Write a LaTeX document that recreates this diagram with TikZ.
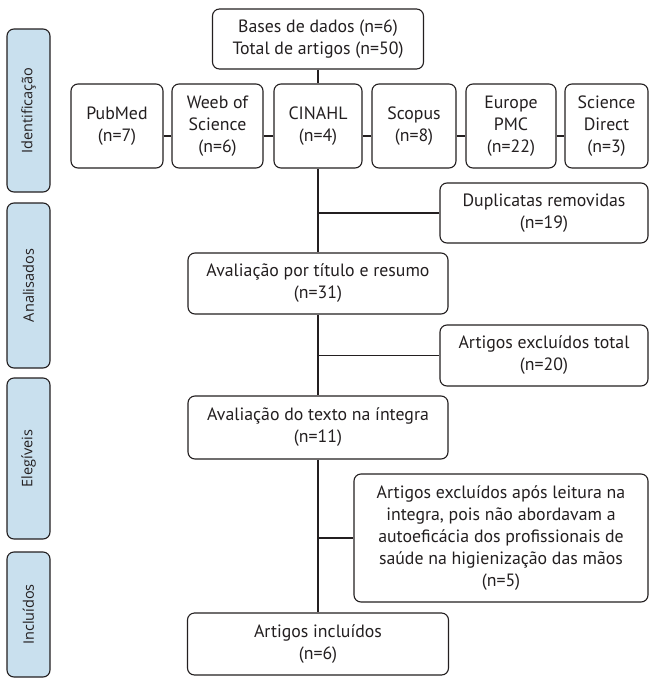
\documentclass[tikz,border=0pt]{standalone}
\usepackage{fontspec}
\setmainfont{PT Sans}
\newfontfamily\sidefont{Open Sans}
\usetikzlibrary{calc}
\definecolor{sideblue}{RGB}{201,224,238}
\definecolor{ink}{RGB}{35,31,32}
\begin{document}
\begin{tikzpicture}[x=1pt,y=-1pt,
  box/.style={draw=ink, line width=1.1pt, rounded corners=7pt, fill=white, align=center,
    inner sep=0pt, text=ink, font=\fontsize{17.8}{22}\selectfont},
  sidebox/.style={draw=ink, line width=1.1pt, rounded corners=7pt, fill=sideblue,
    inner sep=0pt, rotate=90, minimum height=43pt, text=ink, font=\sidefont\fontsize{14.5}{17}\selectfont},
  trunk/.style={draw=ink, line width=1.8pt},
  link/.style={draw=ink, line width=1.5pt}]
\useasboundingbox (0,0) rectangle (649,678);

% side labels
\node[sidebox, minimum width=163pt] (ident) at (28.5,110.5) {Identificação};
\node[sidebox, minimum width=165pt] (anal) at (28.5,285.5) {Analisados};
\node[sidebox, minimum width=161pt] (eleg) at (28.5,458.5) {Elegíveis};
\node[sidebox, minimum width=125pt] (inclu) at (28.5,614.5) {Incluídos};

% main flow
\node[box, minimum width=211pt, minimum height=60pt] (bases) at (318,39) {Bases de dados (n=6)\\Total de artigos (n=50)};
\node[box, minimum width=92pt, minimum height=84pt] (pubmed) at (117,126) {PubMed\\(n=7)};
\node[box, minimum width=91pt, minimum height=84pt] (weeb) at (217.5,126) {Weeb of\\Science\\(n=6)};
\node[box, minimum width=88pt, minimum height=84pt] (cinahl) at (318,126) {CINAHL\\(n=4)};
\node[box, minimum width=84pt, minimum height=84pt] (scopus) at (414,126) {Scopus\\(n=8)};
\node[box, minimum width=90pt, minimum height=84pt] (europe) at (511,126) {Europe\\PMC\\(n=22)};
\node[box, minimum width=83pt, minimum height=84pt] (science) at (606.5,126) {Science\\Direct\\(n=3)};
\coordinate (rowline) at (318,136);

\node[box, minimum width=208pt, minimum height=60pt] (dup) at (544,213) {Duplicatas removidas\\(n=19)};
\node[box, minimum width=260pt, minimum height=61pt] (titulo) at (318,283.5) {Avaliação por título e resumo\\(n=31)};
\node[box, minimum width=208pt, minimum height=61pt] (exctot) at (544,355.5) {Artigos excluídos total\\(n=20)};
\node[box, minimum width=260pt, minimum height=63pt] (texto) at (318,427.5) {Avaliação do texto na íntegra\\(n=11)};
\node[box, minimum width=294pt, minimum height=128pt] (apos) at (501,538) {Artigos excluídos após leitura na\\integra, pois não abordavam a\\autoeficácia dos profissionais de\\saúde na higienização das mãos\\(n=5)};
\node[box, minimum width=261pt, minimum height=62pt] (incl) at (318,644) {Artigos incluídos\\(n=6)};

% connectors
\draw[trunk] (bases.south) -- (cinahl.north);
\draw[trunk] (cinahl.south) -- (titulo.north);
\draw[trunk] (titulo.south) -- (texto.north);
\draw[trunk] (texto.south) -- (incl.north);
\draw[link] (pubmed.east |- rowline) -- (weeb.west |- rowline);
\draw[link] (weeb.east |- rowline) -- (cinahl.west |- rowline);
\draw[link] (cinahl.east |- rowline) -- (scopus.west |- rowline);
\draw[link] (scopus.east |- rowline) -- (europe.west |- rowline);
\draw[link] (europe.east |- rowline) -- (science.west |- rowline);
\draw[link] (cinahl.south |- dup.west) -- (dup.west);
\draw[link] (cinahl.south |- exctot.west) -- (exctot.west);
\draw[link] (cinahl.south |- apos.west) -- (apos.west);
\end{tikzpicture}
\end{document}
